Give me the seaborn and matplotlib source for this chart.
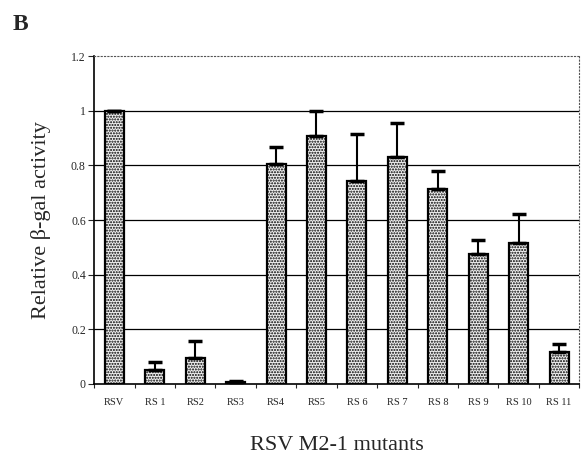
import numpy as np
import pandas as pd
import seaborn as sns
import matplotlib.pyplot as plt

mutants = ["RSV", "RS 1", "RS2", "RS3", "RS4", "RS5", "RS 6",
           "RS 7", "RS 8", "RS 9", "RS 10", "RS 11"]
activity = [1.0, 0.052, 0.093, 0.008, 0.807, 0.906, 0.744,
            0.83, 0.713, 0.474, 0.516, 0.118]
err_top = [1.0, 0.079, 0.157, 0.012, 0.866, 1.0, 0.915,
           0.955, 0.779, 0.527, 0.622, 0.147]
y_ticks = [0, 0.2, 0.4, 0.6, 0.8, 1.0, 1.2]
y_tick_labels = ["0", "0.2", "0.4", "0.6", "0.8", "1", "1.2"]

df = pd.DataFrame({"mutant": mutants, "activity": activity})
upper = np.array(err_top) - np.array(activity)

sns.set_theme(style = "white")
plt.rcParams['font.family'] = ['Liberation Serif', 'DejaVu Serif']
plt.rcParams['hatch.linewidth'] = 1.0

fig = plt.figure(figsize = (5.81, 4.57), dpi = 100)
ax = fig.add_axes([0.162, 0.160, 0.835, 0.717])

# Grid Lines Behind The Bars
for y in y_ticks[1:-1]:
    ax.axhline(y, color = "black", lw = 0.9, zorder = 0)

# Bars
sns.barplot(x = "mutant", y = "activity", data = df, ax = ax, width = 0.47,
            color = "#d9d9d9", edgecolor = "black", linewidth = 1.6,
            saturation = 1, zorder = 2)
for patch in ax.patches:
    patch.set_hatch("......")
    patch.set_facecolor("#f0f0f0")

# Upper Error Bars Only
x_pos = np.arange(len(mutants))
ax.errorbar(x_pos, activity, yerr = [np.zeros(len(upper)), upper],
            fmt = "none", ecolor = "black", elinewidth = 1.5,
            capsize = 5, capthick = 2.5, zorder = 3)

ax.set_xlim(-0.5, len(mutants) - 0.5)
ax.set_ylim(0, 1.2)
ax.set_yticks(y_ticks)
ax.set_yticklabels(y_tick_labels, fontsize = 8.5)
ax.set_xticks(x_pos)
ax.set_xticklabels(mutants, fontsize = 7.5)
ax.set_xticks(np.arange(-0.5, len(mutants), 1), minor = True)
ax.tick_params(axis = "x", which = "major", length = 0, pad = 10)
ax.tick_params(axis = "x", which = "minor", length = 3, width = 0.8,
               direction = "out", bottom = True)
ax.tick_params(axis = "y", length = 4, width = 0.8, direction = "out",
               left = True, pad = 2)

ax.set_xlabel("RSV M2-1 mutants", fontsize = 16, labelpad = 21)
ax.set_ylabel("Relative \u03b2-gal activity", fontsize = 16, labelpad = 14)

# Frame: Solid Bottom, Dotted Elsewhere
for side in ["top", "right"]:
    ax.spines[side].set_linestyle((0, (1, 2)))
    ax.spines[side].set_color("#555555")
    ax.spines[side].set_linewidth(0.8)
ax.spines["left"].set_linestyle((0, (2, 1)))
ax.spines["left"].set_color("black")
ax.spines["left"].set_linewidth(1.2)
ax.spines["bottom"].set_color("black")
ax.spines["bottom"].set_linewidth(1.2)

fig.text(0.022, 0.935, "B", fontsize = 17, fontweight = "bold")

fig.savefig("out.png", dpi = 100)
